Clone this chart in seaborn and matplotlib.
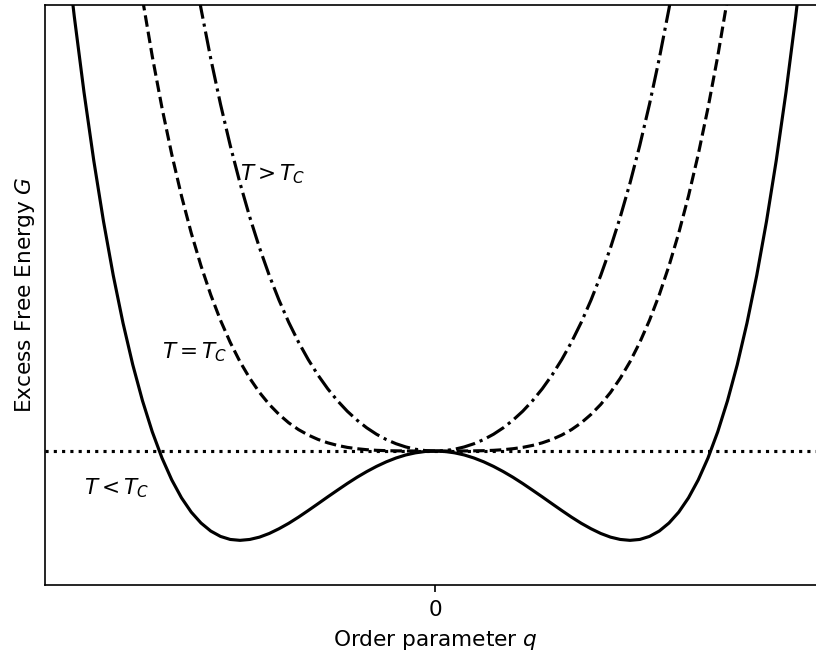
import pandas as pd
import seaborn as sns
import matplotlib.pyplot as plt

# Order parameter grid and excess free energy
q = [-2.00, -1.95, -1.90, -1.85, -1.80, -1.75, -1.70, -1.65, -1.60, -1.55,
     -1.50, -1.45, -1.40, -1.35, -1.30, -1.25, -1.20, -1.15, -1.10, -1.05,
     -1.00, -0.95, -0.90, -0.85, -0.80, -0.75, -0.70, -0.65, -0.60, -0.55,
     -0.50, -0.45, -0.40, -0.35, -0.30, -0.25, -0.20, -0.15, -0.10, -0.05,
     0.00,
     0.05, 0.10, 0.15, 0.20, 0.25, 0.30, 0.35, 0.40, 0.45, 0.50,
     0.55, 0.60, 0.65, 0.70, 0.75, 0.80, 0.85, 0.90, 0.95, 1.00,
     1.05, 1.10, 1.15, 1.20, 1.25, 1.30, 1.35, 1.40, 1.45, 1.50,
     1.55, 1.60, 1.65, 1.70, 1.75, 1.80, 1.85, 1.90, 1.95, 2.00]

# T > Tc (dash-dot)
g_above = [24.00, 22.06, 20.25, 18.56, 16.98, 15.50, 14.13, 12.86, 11.67, 10.58,
           9.563, 8.626, 7.762, 6.967, 6.236, 5.566, 4.954, 4.394, 3.884, 3.421,
           3.000, 2.620, 2.276, 1.967, 1.690, 1.441, 1.220, 1.024, 0.850, 0.697,
           0.563, 0.446, 0.346, 0.260, 0.188, 0.129, 0.082, 0.046, 0.020, 0.005,
           0.000,
           0.005, 0.020, 0.046, 0.082, 0.129, 0.188, 0.260, 0.346, 0.446, 0.563,
           0.697, 0.850, 1.024, 1.220, 1.441, 1.690, 1.967, 2.276, 2.620, 3.000,
           3.421, 3.884, 4.394, 4.954, 5.566, 6.236, 6.967, 7.762, 8.626, 9.563,
           10.58, 11.67, 12.86, 14.13, 15.50, 16.98, 18.56, 20.25, 22.06, 24.00]

# T = Tc (dashed)
g_crit = [16.00, 14.46, 13.03, 11.71, 10.50, 9.379, 8.352, 7.412, 6.554, 5.772,
          5.063, 4.421, 3.842, 3.322, 2.856, 2.441, 2.074, 1.749, 1.464, 1.216,
          1.000, 0.815, 0.656, 0.522, 0.410, 0.316, 0.240, 0.179, 0.130, 0.092,
          0.063, 0.041, 0.026, 0.015, 0.008, 0.004, 0.002, 0.001, 0.000, 0.000,
          0.000,
          0.000, 0.000, 0.001, 0.002, 0.004, 0.008, 0.015, 0.026, 0.041, 0.063,
          0.092, 0.130, 0.179, 0.240, 0.316, 0.410, 0.522, 0.656, 0.815, 1.000,
          1.216, 1.464, 1.749, 2.074, 2.441, 2.856, 3.322, 3.842, 4.421, 5.063,
          5.772, 6.554, 7.412, 8.352, 9.379, 10.50, 11.71, 13.03, 14.46, 16.00]

# T < Tc (solid)
g_below = [8.000, 6.854, 5.812, 4.869, 4.018, 3.254, 2.572, 1.967, 1.434, 0.967,
           0.563, 0.216, -0.078, -0.323, -0.524, -0.684, -0.806, -0.896, -0.956, -0.990,
           -1.000, -0.990, -0.964, -0.923, -0.870, -0.809, -0.740, -0.666, -0.590, -0.513,
           -0.438, -0.364, -0.294, -0.230, -0.172, -0.121, -0.078, -0.044, -0.020, -0.005,
           0.000,
           -0.005, -0.020, -0.044, -0.078, -0.121, -0.172, -0.230, -0.294, -0.364, -0.438,
           -0.513, -0.590, -0.666, -0.740, -0.809, -0.870, -0.923, -0.964, -0.990, -1.000,
           -0.990, -0.956, -0.896, -0.806, -0.684, -0.524, -0.323, -0.078, 0.216, 0.563,
           0.967, 1.434, 1.967, 2.572, 3.254, 4.018, 4.869, 5.812, 6.854, 8.000]

labels = ['$T > T_C$', '$T = T_C$', '$T < T_C$']
label_pos = [(-1.0, 3.1), (-1.40, 1.11), (-1.80, -0.42)]

df = pd.DataFrame({'q': q, 'above': g_above, 'crit': g_crit, 'below': g_below})

plt.rcParams['font.size'] = 15.6
plt.rcParams['axes.linewidth'] = 1.2
plt.rcParams['xtick.major.size'] = 5.25
plt.rcParams['xtick.major.width'] = 1.2
plt.rcParams['xtick.major.pad'] = 5.5

fig = plt.figure(figsize=(8.16, 6.56), dpi=100)
ax = fig.add_axes([45 / 816, 71 / 656, 780 / 816, 580.5 / 656])

lw = 2.25
sns.lineplot(data=df, x='q', y='above', ax=ax, color='black', lw=lw, linestyle='-.')
sns.lineplot(data=df, x='q', y='crit', ax=ax, color='black', lw=lw, linestyle='--')
sns.lineplot(data=df, x='q', y='below', ax=ax, color='black', lw=lw, linestyle='-')
ax.axhline(0, color='black', lw=lw, linestyle=':')

for txt, (x, y) in zip(labels, label_pos):
    ax.text(x, y, txt, ha='left', va='center')

ax.set_xlim(-2, 2)
ax.set_ylim(-1.5, 5)
ax.set_xticks([0])
ax.set_yticks([])
ax.set_xlabel('Order parameter $q$', labelpad=6)
ax.set_ylabel('Excess Free Energy $G$', labelpad=6)

fig.savefig('out.png', dpi=100)
plt.close(fig)
